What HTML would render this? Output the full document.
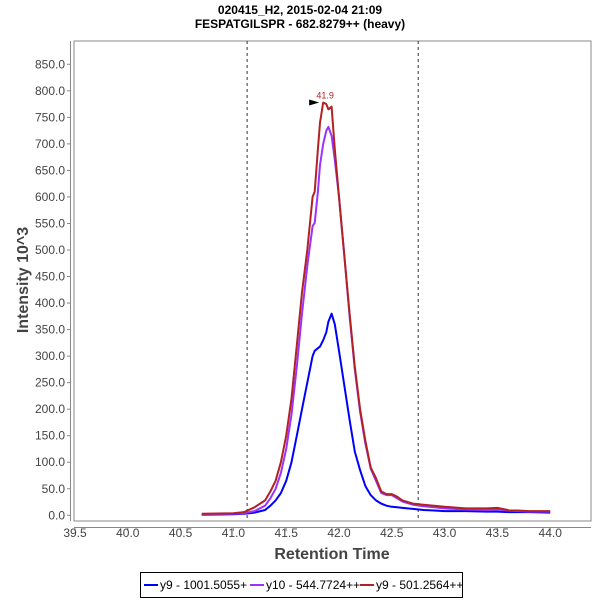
<!DOCTYPE html>
<html><head><meta charset="utf-8"><style>
body{margin:0;background:#fff;width:600px;height:600px;overflow:hidden}
svg text{font-family:"Liberation Sans",sans-serif}
</style></head><body>
<svg width="600" height="600">
<text x="300" y="14" text-anchor="middle" font-size="12" font-weight="bold" fill="#000">020415_H2, 2015-02-04 21:09</text>
<text x="300" y="28" text-anchor="middle" font-size="12" font-weight="bold" fill="#000">FESPATGILSPR - 682.8279++ (heavy)</text>
<rect x="74" y="41" width="517" height="480" fill="#fff" stroke="#888"/>
<g id="axes"></g>
<g id="series"></g>
<text transform="translate(28,280) rotate(-90)" text-anchor="middle" font-size="16" font-weight="bold" fill="#444">Intensity 10^3</text>
<text x="332" y="559" text-anchor="middle" font-size="16" font-weight="bold" fill="#444">Retention Time</text>
<g>
<rect x="140.5" y="572.5" width="322" height="25" fill="#fff" stroke="#000"/>
<line x1="144" y1="585" x2="158" y2="585" stroke="#0000ff" stroke-width="2"/>
<text x="160" y="589" font-size="12" fill="#000">y9 - 1001.5055+</text>
<line x1="250" y1="585" x2="264" y2="585" stroke="#9933ff" stroke-width="2"/>
<text x="266" y="589" font-size="12" fill="#000">y10 - 544.7724++</text>
<line x1="360" y1="585" x2="374" y2="585" stroke="#b22222" stroke-width="2"/>
<text x="376" y="589" font-size="12" fill="#000">y9 - 501.2564++</text>
</g>
</svg>
<script>
const xTicks=[39.5,40.0,40.5,41.0,41.5,42.0,42.5,43.0,43.5,44.0];
const yTicks=[0,50,100,150,200,250,300,350,400,450,500,550,600,650,700,750,800,850];
const boundaries=[41.13,42.75];
const times=[40.7,41.0,41.1,41.2,41.3,41.35,41.4,41.45,41.5,41.55,41.6,41.65,41.7,41.75,41.77,41.8,41.82,41.85,41.88,41.9,41.93,41.96,42.0,42.05,42.1,42.15,42.2,42.25,42.3,42.35,42.4,42.45,42.5,42.55,42.6,42.7,42.8,42.9,43.0,43.2,43.4,43.5,43.6,43.8,44.0];
const red=[3,4,6,15,28,45,65,100,150,220,320,420,500,600,610,690,740,778,775,765,770,690,600,490,380,280,200,140,90,70,45,40,40,35,28,22,20,18,16,13,13,14,10,8,8];
const purple=[2,3,4,8,18,32,50,80,125,190,280,380,470,545,551,610,660,700,725,732,715,670,600,490,375,275,195,135,88,65,42,38,38,32,26,20,17,15,13,11,10,11,9,7,7];
const blue=[1,2,3,5,10,18,28,42,65,100,150,200,250,300,310,315,318,330,345,365,380,360,310,245,180,120,85,55,38,28,22,18,16,15,14,12,10,9,8,8,7,7,6,6,5];
const peakTime=41.85, peakVal=778;
const NS='http://www.w3.org/2000/svg';
const X=t=>75+(t-39.5)*105.6;
const Y=v=>515.3-v*0.5306;
const axes=document.getElementById('axes');
const ser=document.getElementById('series');
function mk(tag,attrs,parent){const e=document.createElementNS(NS,tag);for(const k in attrs)e.setAttribute(k,attrs[k]);parent.appendChild(e);return e;}
mk('line',{x1:70.5,y1:41,x2:70.5,y2:521,stroke:'#888'},axes);
mk('line',{x1:74,y1:527.5,x2:591,y2:527.5,stroke:'#888'},axes);
yTicks.forEach(v=>{
 mk('line',{x1:67,y1:Y(v),x2:70.5,y2:Y(v),stroke:'#888'},axes);
 const t=mk('text',{x:65,y:Y(v)+4,'text-anchor':'end','font-size':12,fill:'#444'},axes);
 t.textContent=v.toFixed(1);
 
 
});
xTicks.forEach(v=>{
 mk('line',{x1:X(v),y1:527.5,x2:X(v),y2:531,stroke:'#888'},axes);
 const t=mk('text',{x:X(v),y:537,'text-anchor':'middle','font-size':12,fill:'#444'},axes);
 t.textContent=v.toFixed(1);
 
 
});
boundaries.forEach(b=>{
 const l=mk('line',{x1:X(b),y1:41,x2:X(b),y2:521,stroke:'#333','stroke-dasharray':'3,3'},axes);
 
 
});
function draw(vals,color,name){
 const d=times.map((t,i)=>(i?'L':'M')+X(t).toFixed(1)+','+Y(vals[i]).toFixed(1)).join(' ');
 const p=mk('path',{d:d,fill:'none',stroke:color,'stroke-width':2,'stroke-linejoin':'round'},ser);
 
 
}
draw(blue,'#0000ff','series-y9-1001');
draw(purple,'#9933ff','series-y10-544');
draw(red,'#b22222','series-y9-501');
const px=X(peakTime),py=Y(peakVal);
const m=mk('polygon',{points:`${px-14},${py-3} ${px-4},${py} ${px-14},${py+3}`,fill:'#000'},ser);


const lt=mk('text',{x:px+2,y:py-4,'text-anchor':'middle','font-size':9,fill:'#b22222'},ser);
lt.textContent=peakTime.toFixed(1);


</script>
</body></html>
